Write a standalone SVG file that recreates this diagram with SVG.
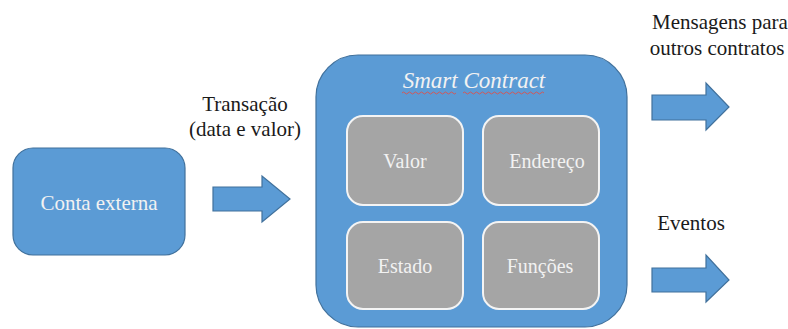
<svg xmlns="http://www.w3.org/2000/svg" width="788" height="329" viewBox="0 0 788 329">
<defs>
<style>
.blue{fill:#5B9BD5;stroke:#41719C;stroke-width:1.2}
.gray{fill:#A5A5A5;stroke:#F4F4F4;stroke-width:2}
.arrow{fill:#5B9BD5;stroke:#41719C;stroke-width:1.2}
.dark{fill:#1a1a1a}
.light{fill:#F2F2F2}
.sq{fill:none;stroke:#E0504A;stroke-width:0.9}
</style>
</defs>
<rect width="788" height="329" fill="#ffffff"/>
<g id="conta-externa">
<rect class="blue" x="13" y="148" width="172" height="107" rx="20"/>
<text class="light" x="99" y="210" style="font-family:'Liberation Serif','Times New Roman',Tinos,serif;font-size:21px" text-anchor="middle">Conta externa</text>
</g>
<g id="smart-contract">
<rect class="blue" x="316" y="55" width="311" height="272" rx="42"/>
<text class="light" x="474" y="88" style="font-family:'Liberation Serif','Times New Roman',Tinos,serif;font-size:23px;font-style:italic" text-anchor="middle">Smart Contract</text>
<path class="sq" d="M402 93 q1.5 -2 3 0 t3 0 t3 0 t3 0 t3 0 t3 0 t3 0 t3 0 t3 0 t3 0 t3 0 t3 0 t3 0 t3 0 t3 0 t3 0 t3 0 t3 0"/>
<path class="sq" d="M463 93 q1.5 -2 3 0 t3 0 t3 0 t3 0 t3 0 t3 0 t3 0 t3 0 t3 0 t3 0 t3 0 t3 0 t3 0 t3 0 t3 0 t3 0 t3 0 t3 0 t3 0 t3 0 t3 0 t3 0 t3 0 t3 0 t3 0 t3 0 t3 0"/>
</g>
<g id="valor">
<rect class="gray" x="347" y="116" width="116" height="89" rx="16"/>
<text class="light" x="405" y="168" style="font-family:'Liberation Serif','Times New Roman',Tinos,serif;font-size:20px" text-anchor="middle">Valor</text>
</g>
<g id="endereco">
<rect class="gray" x="483" y="116" width="116" height="89" rx="16"/>
<text class="light" x="547" y="168" style="font-family:'Liberation Serif','Times New Roman',Tinos,serif;font-size:20px" text-anchor="middle">Endereço</text>
</g>
<g id="estado">
<rect class="gray" x="347" y="222" width="116" height="87" rx="16"/>
<text class="light" x="405" y="273" style="font-family:'Liberation Serif','Times New Roman',Tinos,serif;font-size:20px" text-anchor="middle">Estado</text>
</g>
<g id="funcoes">
<rect class="gray" x="483" y="222" width="116" height="87" rx="16"/>
<text class="light" x="540" y="273" style="font-family:'Liberation Serif','Times New Roman',Tinos,serif;font-size:20px" text-anchor="middle">Funções</text>
</g>
<g id="connectors">
<polygon class="arrow" points="213,187 262,187 262,176 290,199 262,222 262,211 213,211"/>
<polygon class="arrow" points="652,95 706,95 706,83 729,107 706,130 706,120 652,120"/>
<polygon class="arrow" points="652,268 706,268 706,255 729,280 706,302 706,292 652,292"/>
</g>
<g id="labels" style="font-family:'Liberation Serif','Times New Roman',Tinos,serif;font-size:21px" text-anchor="middle">
<text class="dark" x="245" y="111">Transação</text>
<text class="dark" x="245" y="136">(data e valor)</text>
<text class="dark" x="720" y="29">Mensagens para</text>
<text class="dark" x="717" y="55">outros contratos</text>
<text class="dark" x="691" y="230">Eventos</text>
</g>
</svg>
